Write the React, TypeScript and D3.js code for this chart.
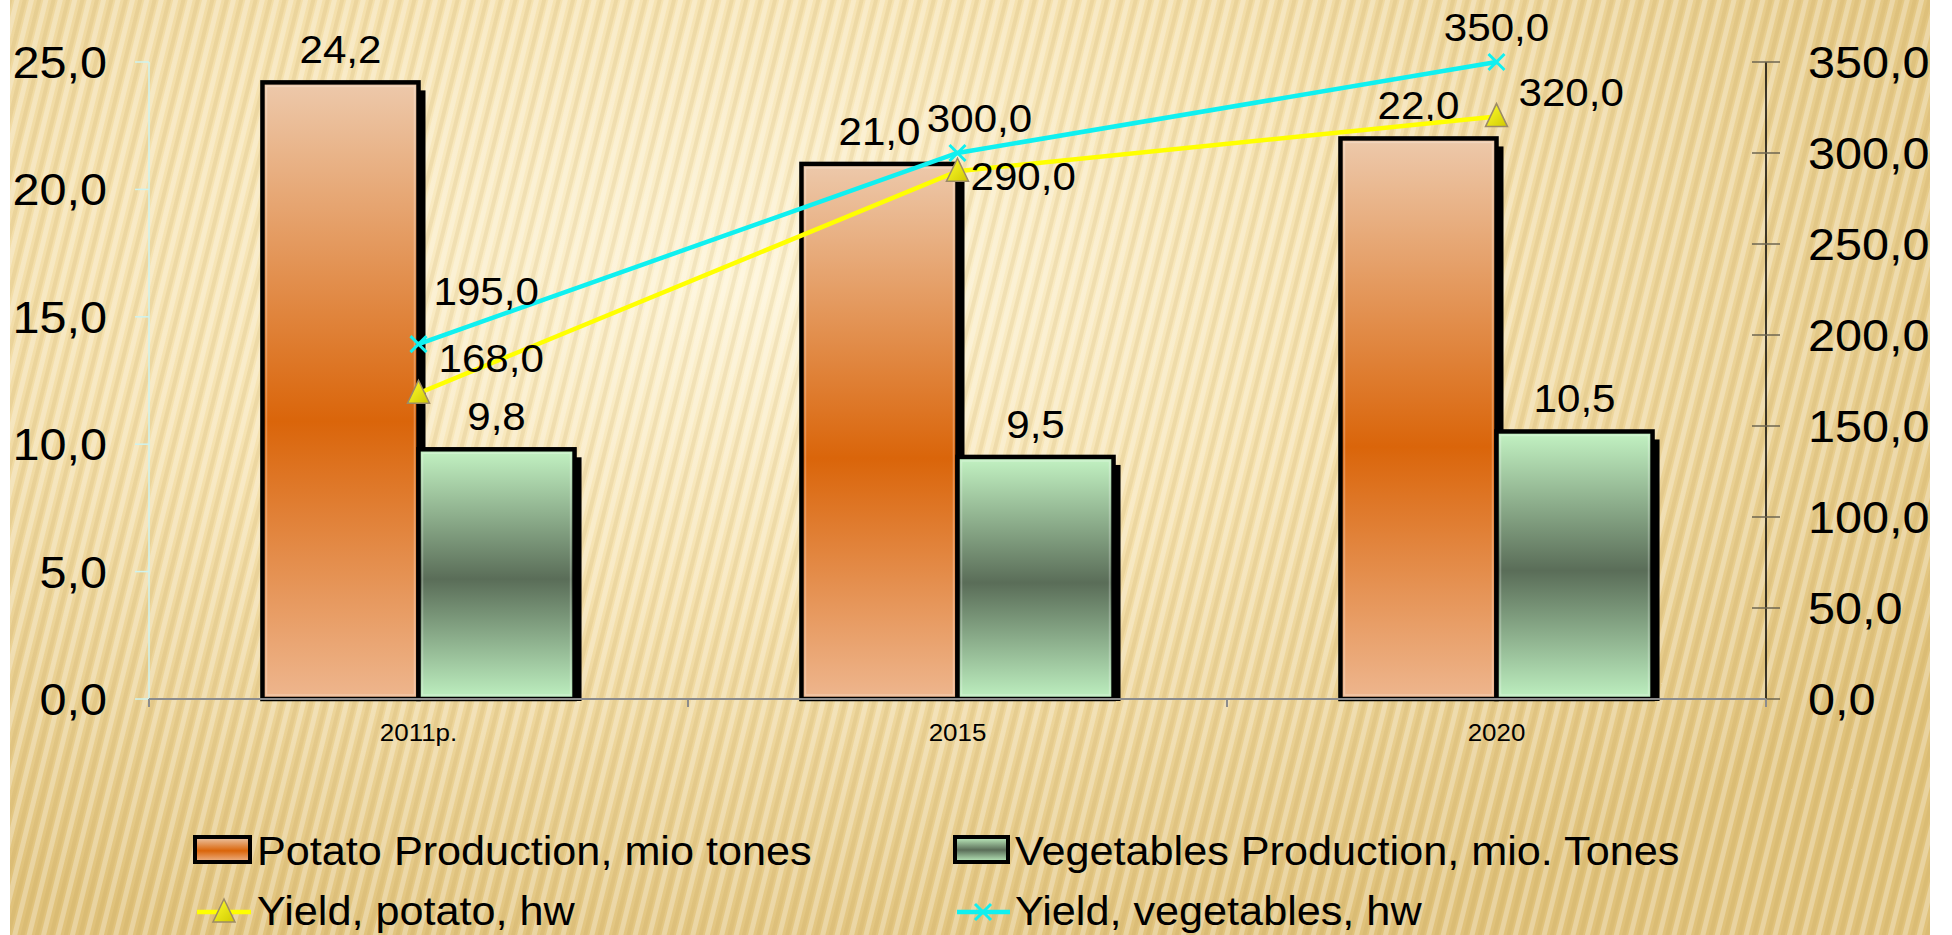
import React from "react";
import * as d3 from "d3";

const categories = ["2011р.", "2015", "2020"];
const seriesNames = ["Potato Production, mio tones", "Vegetables Production, mio. Tones"];
const potatoProduction = [24.2, 21.0, 22.0];
const vegetablesProduction = [9.8, 9.5, 10.5];
const lineNames = ["Yield, potato, hw", "Yield, vegetables, hw"];
const potatoYield = [168, 290, 320];
const vegetablesYield = [195, 300, 350];
const leftTicks = [0, 5, 10, 15, 20, 25];
const rightTicks = [0, 50, 100, 150, 200, 250, 300, 350];

// label placement (layout config): [anchor, dx, dy-of-text-center]
const potatoYieldLabelPos: [string, number, number][] = [["start", 20, -35], ["start", 13, 5], ["start", 22, -25]];
const vegYieldLabelPos: [string, number, number][] = [["start", 15, -53], ["middle", 22, -35], ["middle", 0, -35]];

const W = 1952, H = 935;
const plotL = 149, plotR = 1766, plotT = 62, plotB = 699;
const FONT = "'Liberation Sans', Arial, Helvetica, sans-serif";
const SX = 1.08;

const fmt = (v: number) => d3.format(".1f")(v).replace(".", ",");

function T({ x, y, size, anchor = "start", children }: any) {
  return (
    <text
      transform={`translate(${x},${y}) scale(${SX},1)`}
      fontFamily={FONT}
      fontSize={size}
      textAnchor={anchor}
      fill="#000"
    >
      {children}
    </text>
  );
}

export default function App() {
  const x0 = d3.scaleBand<string>().domain(categories).range([plotL, plotR]).padding(0);
  const groupW = x0.bandwidth() * 0.579;
  const x1 = d3.scaleBand<number>().domain([0, 1]).range([0, groupW]).padding(0);
  const yL = d3.scaleLinear().domain([0, 25]).range([plotB, plotT]);
  const yR = d3.scaleLinear().domain([0, 350]).range([plotB, plotT]);
  const cx = (c: string) => (x0(c) as number) + x0.bandwidth() / 2;
  const barX = (c: string, s: number) => cx(c) - groupW / 2 + (x1(s) as number);

  const lineGen = d3.line<number>().x((_, i) => cx(categories[i])).y((d) => yR(d));

  const barSeries = [
    { values: potatoProduction, fill: "url(#gPotato)" },
    { values: vegetablesProduction, fill: "url(#gVeg)" },
  ];

  const tri = (x: number, y: number, s = 1) =>
    `M${x},${y - 13 * s} L${x + 11 * s},${y + 10 * s} L${x - 11 * s},${y + 10 * s} Z`;
  const cross = (x: number, y: number, r = 8) =>
    `M${x - r},${y - r} L${x + r},${y + r} M${x - r},${y + r} L${x + r},${y - r}`;

  return (
    <svg width={W} height={H} style={{ position: "absolute", left: 0, top: 0 }}>
      <defs>
        <radialGradient id="bgGrad" cx="0.38" cy="0.3" r="0.75">
          <stop offset="0" stopColor="#FDF3D4" />
          <stop offset="0.45" stopColor="#F5E1AE" />
          <stop offset="1" stopColor="#E0C27B" />
        </radialGradient>
        <linearGradient id="gPotato" x1="0" y1="0" x2="0" y2="1">
          <stop offset="0" stopColor="#EDC9AB" />
          <stop offset="0.55" stopColor="#DA650A" />
          <stop offset="1" stopColor="#EEB68E" />
        </linearGradient>
        <linearGradient id="gVeg" x1="0" y1="0" x2="0" y2="1">
          <stop offset="0" stopColor="#C3F3C3" />
          <stop offset="0.52" stopColor="#5A6D58" />
          <stop offset="1" stopColor="#BEF0C0" />
        </linearGradient>
        <linearGradient id="gTri" x1="0" y1="0" x2="1" y2="1">
          <stop offset="0" stopColor="#FFFF30" />
          <stop offset="1" stopColor="#D0C800" />
        </linearGradient>
        <pattern id="stripes" width="14" height="40" patternUnits="userSpaceOnUse" patternTransform="rotate(14)">
          <rect x="0" y="0" width="5" height="40" fill="#FFFFFF" opacity="0.28" />
          <rect x="8" y="0" width="4" height="40" fill="#B8944A" opacity="0.14" />
        </pattern>
      </defs>

      <rect x={0} y={0} width={W} height={H} fill="#fff" />
      <rect x={10} y={0} width={1920} height={H} fill="url(#bgGrad)" />
      <rect x={10} y={0} width={1920} height={H} fill="url(#stripes)" />

      {/* left axis */}
      <line x1={plotL} x2={plotL} y1={plotT} y2={plotB} stroke="#CFF3EE" strokeWidth={1.5} />
      {leftTicks.map((t) => (
        <g key={"l" + t}>
          <line x1={plotL - 14} x2={plotL} y1={yL(t)} y2={yL(t)} stroke="#CFF3EE" strokeWidth={1.5} />
          <T x={107} y={yL(t) + 16} size={45} anchor="end">{fmt(t)}</T>
        </g>
      ))}

      {/* right axis */}
      <line x1={plotR} x2={plotR} y1={plotT} y2={plotB + 8} stroke="#000" strokeWidth={1.5} />
      {rightTicks.map((t) => (
        <g key={"r" + t}>
          <line x1={plotR - 14} x2={plotR + 14} y1={yR(t)} y2={yR(t)} stroke="#6E6650" strokeWidth={1.5} />
          <T x={1808} y={yR(t) + 16} size={45}>{fmt(t)}</T>
        </g>
      ))}

      {/* bars */}
      {barSeries.map((s, si) =>
        categories.map((c, ci) => {
          const x = barX(c, si);
          const w = x1.bandwidth();
          const y = yL(s.values[ci]);
          return (
            <g key={`b${si}-${ci}`}>
              <rect x={x + w} y={y + 8} width={7} height={plotB - y - 6} fill="#000" />
              <rect x={x} y={y} width={w} height={plotB - y} fill={s.fill} stroke="#000" strokeWidth={4.5} />
              <rect x={x + 4} y={y + 4} width={w - 8} height={plotB - y - 8} fill="none" stroke="#fff" strokeOpacity={0.25} strokeWidth={1.5} />
            </g>
          );
        })
      )}

      {/* x axis */}
      <line x1={plotL} x2={plotR} y1={plotB} y2={plotB} stroke="#8C8C8C" strokeWidth={2} />
      {[...categories.map((c) => x0(c) as number), plotR].map((x, i) => (
        <line key={"xt" + i} x1={x} x2={x} y1={plotB} y2={plotB + 8} stroke="#8C8C8C" strokeWidth={2} />
      ))}
      {categories.map((c) => (
        <T key={"c" + c} x={cx(c)} y={741} size={24} anchor="middle">{c}</T>
      ))}

      {/* bar labels */}
      {barSeries.map((s, si) =>
        categories.map((c, ci) => (
          <T key={`bl${si}-${ci}`} x={barX(c, si) + x1.bandwidth() / 2} y={yL(s.values[ci]) - 19} size={39} anchor="middle">
            {fmt(s.values[ci])}
          </T>
        ))
      )}

      {/* lines */}
      <path d={lineGen(potatoYield) as string} fill="none" stroke="#FFFF00" strokeWidth={4.5} />
      <path d={lineGen(vegetablesYield) as string} fill="none" stroke="#10F0F0" strokeWidth={4.5} />
      {potatoYield.map((v, i) => (
        <path key={"pt" + i} d={tri(cx(categories[i]), yR(v))} fill="url(#gTri)" stroke="#9C8A66" strokeWidth={1.5} />
      ))}
      {vegetablesYield.map((v, i) => (
        <path key={"vx" + i} d={cross(cx(categories[i]), yR(v))} stroke="#10F0F0" strokeWidth={3} />
      ))}
      {potatoYield.map((v, i) => {
        const [a, dx, dy] = potatoYieldLabelPos[i];
        return (
          <T key={"pl" + i} x={cx(categories[i]) + dx} y={yR(v) + dy + 14} size={39} anchor={a}>{fmt(v)}</T>
        );
      })}
      {vegetablesYield.map((v, i) => {
        const [a, dx, dy] = vegYieldLabelPos[i];
        return (
          <T key={"vl" + i} x={cx(categories[i]) + dx} y={yR(v) + dy + 14} size={39} anchor={a}>{fmt(v)}</T>
        );
      })}

      {/* legend */}
      <rect x={195} y={837} width={55} height={25} fill="url(#gPotato)" stroke="#000" strokeWidth={4} />
      <T x={257} y={865} size={40}>{seriesNames[0]}</T>
      <rect x={955} y={837} width={53} height={25} fill="url(#gVeg)" stroke="#000" strokeWidth={4} />
      <T x={1015} y={865} size={40}>{seriesNames[1]}</T>

      <line x1={197} x2={251} y1={912} y2={912} stroke="#FFFF00" strokeWidth={4.5} />
      <path d={tri(224, 912)} fill="url(#gTri)" stroke="#9C8A66" strokeWidth={1.5} />
      <T x={257} y={925} size={40}>{lineNames[0]}</T>
      <line x1={957} x2={1010} y1={912} y2={912} stroke="#10F0F0" strokeWidth={4.5} />
      <path d={cross(983, 912)} stroke="#10F0F0" strokeWidth={3} />
      <T x={1015} y={925} size={40}>{lineNames[1]}</T>
    </svg>
  );
}
